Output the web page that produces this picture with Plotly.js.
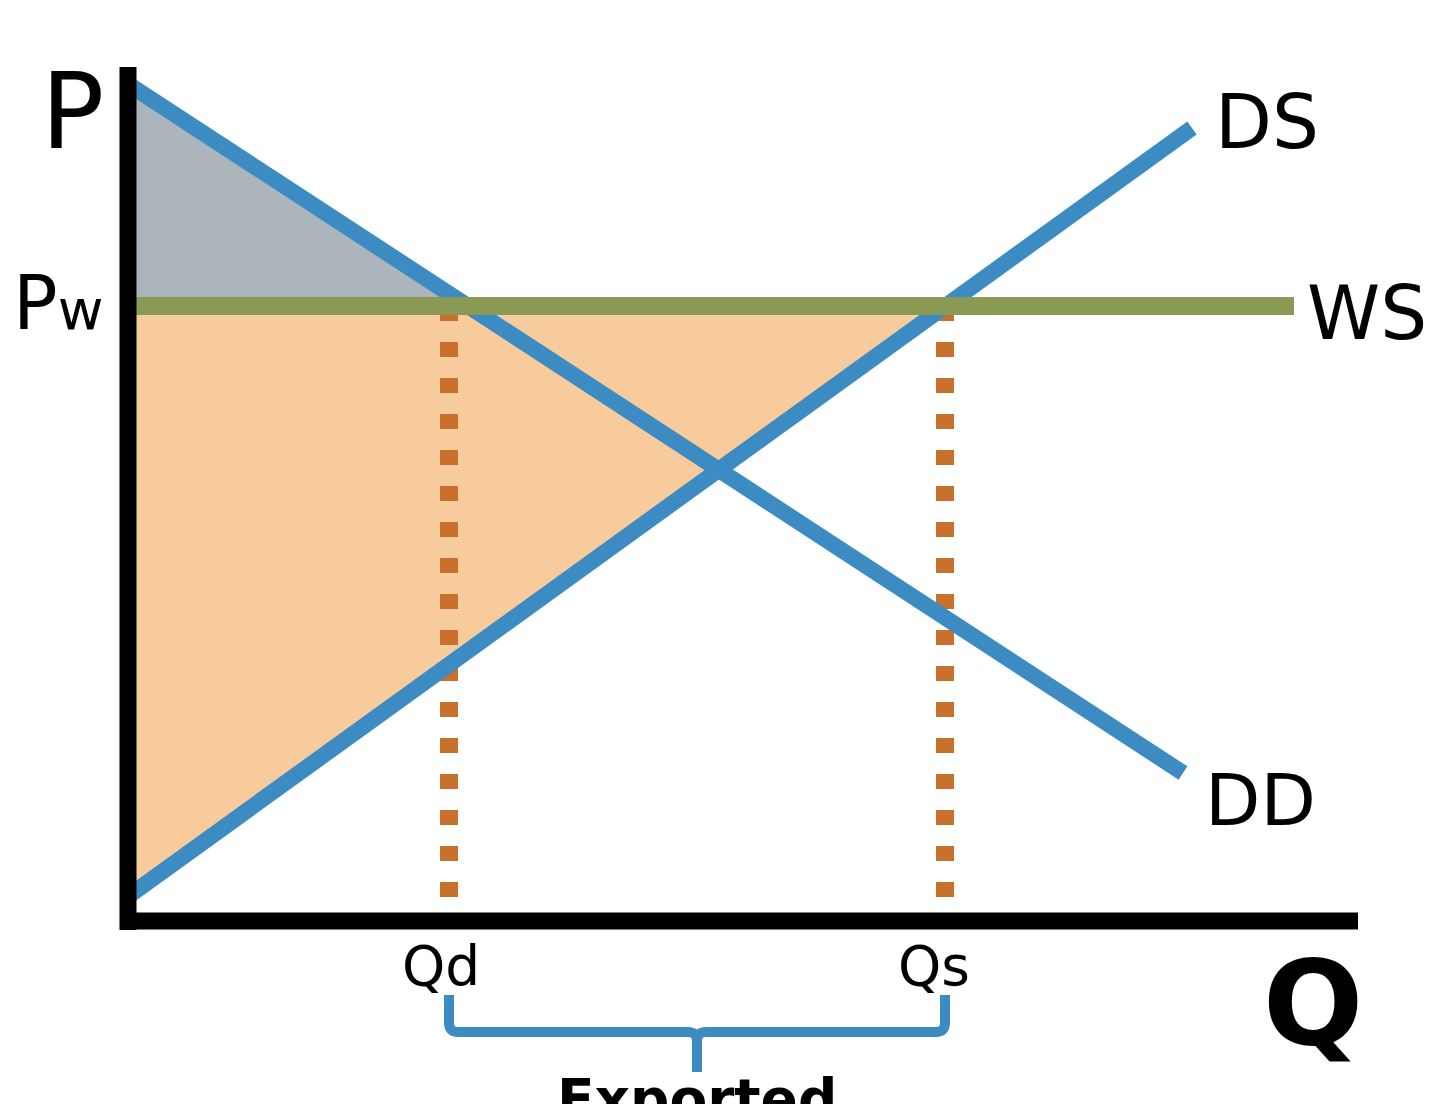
<!DOCTYPE html>
<html>
<head>
<meta charset="utf-8">
<script src="https://cdn.plot.ly/plotly-3.0.1.min.js"></script>
<style>html,body{margin:0;padding:0;background:#fff;}#chart{width:1431px;height:1104px;}</style>
</head>
<body>
<div id="chart"></div>
<script>
// ---- data (schematic units) ----
const demandQ = [0, 105.5];
const demandP = [83.7, 14.8];
const supplyQ = [0, 106.4];
const supplyP = [2.45, 79.3];
const worldQ = [0, 116.6];
const worldPrice = 61.5;
const Qd = 32.1;
const Qs = 81.7;
const axisQmax = 123.0;
const axisPmax = 85.4;
const curveLabels = ["DS", "WS", "DD"];
const tickLabels = ["Qd", "Qs"];
const axisLabels = ["P", "Pw", "Q"];
const bracketLabel = "Exported";

// ---- helpers ----
function qAtPrice(qs, ps, p) {
  return qs[0] + (p - ps[0]) * (qs[1] - qs[0]) / (ps[1] - ps[0]);
}
const xDemandPw = qAtPrice(demandQ, demandP, worldPrice);
const xSupplyPw = qAtPrice(supplyQ, supplyP, worldPrice);

const BLUE = '#3C8CC3', GREEN = '#8A9A54', GREY = '#ADB5BC', ORANGE = '#F7CB9B', DOT = '#C8702C';

const traces = [
  {x: [0, xDemandPw, 0], y: [demandP[0], worldPrice, worldPrice], mode: 'lines', fill: 'toself',
   fillcolor: GREY, line: {width: 0}, hoverinfo: 'skip'},
  {x: [0, xSupplyPw, 0], y: [worldPrice, worldPrice, supplyP[0]], mode: 'lines', fill: 'toself',
   fillcolor: ORANGE, line: {width: 0}, hoverinfo: 'skip'},
  {x: [Qd, Qd], y: [worldPrice, 0], mode: 'lines', line: {color: DOT, width: 18, dash: '15px,21px'}},
  {x: [Qs, Qs], y: [worldPrice, 0], mode: 'lines', line: {color: DOT, width: 18, dash: '15px,21px'}},
  {x: demandQ, y: demandP, mode: 'lines', line: {color: BLUE, width: 16}},
  {x: supplyQ, y: supplyP, mode: 'lines', line: {color: BLUE, width: 16}},
  {x: worldQ, y: [worldPrice, worldPrice], mode: 'lines', line: {color: GREEN, width: 18}},
  {x: [0, 0], y: [-0.9, axisPmax], mode: 'lines', line: {color: '#000', width: 17}},
  {x: [-0.8, axisQmax], y: [0, 0], mode: 'lines', line: {color: '#000', width: 17}}
];

const bTop = -7.4, bBar = -11.1, bTip = -15.1, r = 0.9;
const mid = (Qd + Qs) / 2;
const bracketPath =
  `M ${Qd},${bTop} L ${Qd},${bBar + r} Q ${Qd},${bBar} ${Qd + r},${bBar} ` +
  `L ${mid - r},${bBar} Q ${mid},${bBar} ${mid},${bBar - r} L ${mid},${bTip} ` +
  `M ${mid},${bBar - r} Q ${mid},${bBar} ${mid + r},${bBar} ` +
  `L ${Qs - r},${bBar} Q ${Qs},${bBar} ${Qs},${bBar + r} L ${Qs},${bTop}`;

const FONT = 'DejaVu Sans';
const ann = (text, x, y, size, opts) => Object.assign({
  text: text, x: x, y: y, xref: 'x', yref: 'y', showarrow: false,
  font: {family: FONT, size: size, color: '#000'}, xanchor: 'center', yanchor: 'middle'
}, opts || {});

const pwText = axisLabels[1].charAt(0) + "<span style='font-size:56px'>" + axisLabels[1].slice(1) + "</span>";

const layout = {
  width: 1431, height: 1104,
  margin: {l: 0, r: 0, t: 0, b: 0, pad: 0},
  paper_bgcolor: '#fff', plot_bgcolor: '#fff',
  showlegend: false,
  xaxis: {range: [-12.8, 130.3], visible: false, fixedrange: true},
  yaxis: {range: [-18.3, 92.1], visible: false, fixedrange: true},
  shapes: [{type: 'path', path: bracketPath, xref: 'x', yref: 'y',
            line: {color: BLUE, width: 10}}],
  annotations: [
    ann(axisLabels[0], -5.6, 80.9, 105),
    ann(pwText, -2.3, 61.8, 74, {xanchor: 'right'}),
    ann(axisLabels[2], 118.5, -8.2, 118, {font: {family: FONT, size: 118, color: '#000', weight: 'bold'}}),
    ann(curveLabels[0], 108.5, 79.9, 74, {xanchor: 'left'}),
    ann(curveLabels[1], 117.7, 60.8, 74, {xanchor: 'left'}),
    ann(curveLabels[2], 107.5, 12.1, 72, {xanchor: 'left'}),
    ann(tickLabels[0], Qd - 0.8, -4.5, 55),
    ann(tickLabels[1], Qs - 1.1, -4.5, 55),
    ann(bracketLabel, mid, -17.8, 55, {font: {family: FONT, size: 55, color: '#000', weight: 'bold'}})
  ]
};

Plotly.newPlot('chart', traces, layout, {staticPlot: true, displayModeBar: false});
</script>
</body>
</html>
